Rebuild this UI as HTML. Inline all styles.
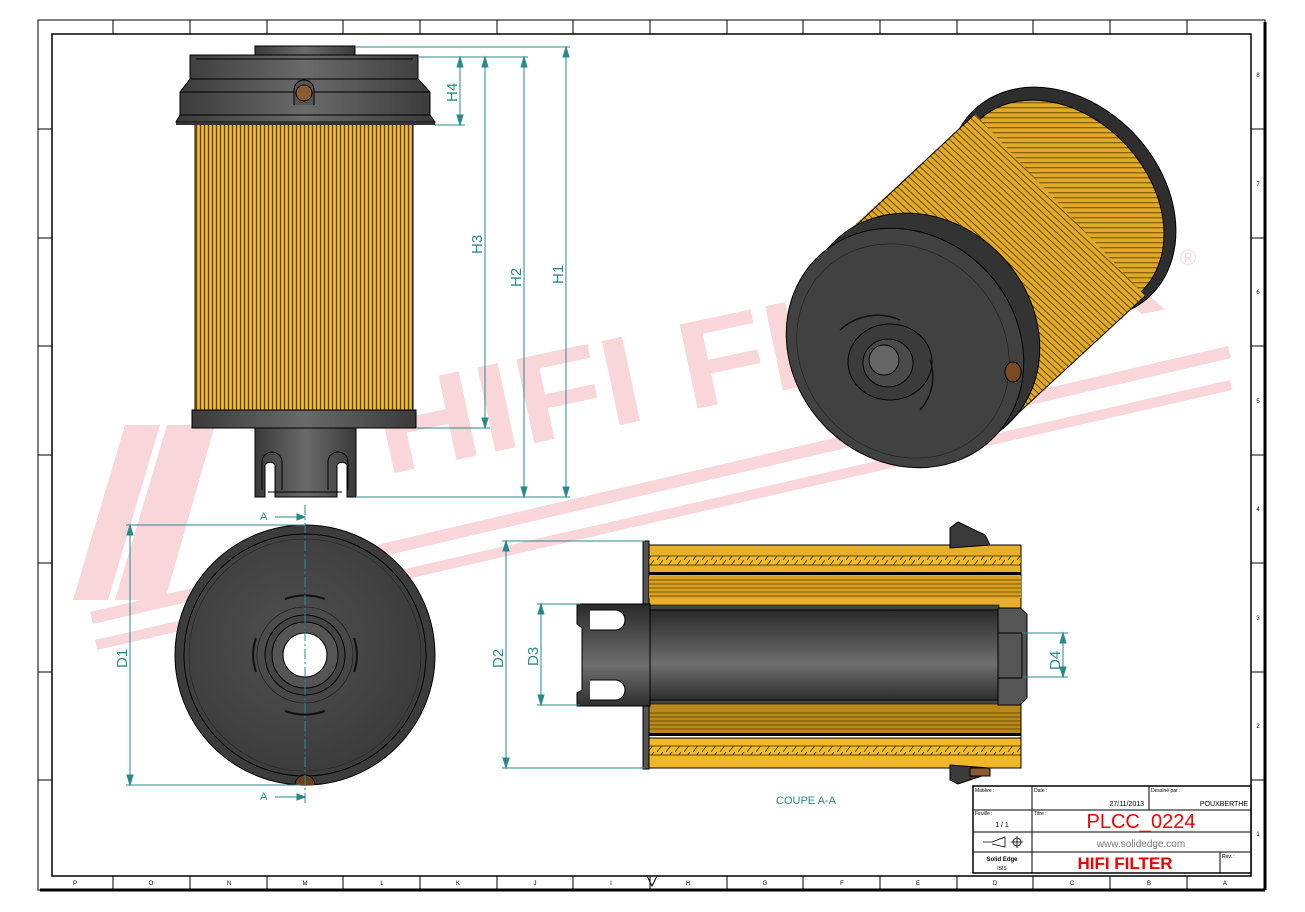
<!DOCTYPE html>
<html><head><meta charset="utf-8"><style>
html,body{margin:0;padding:0;background:#fff}
svg{display:block}
text{font-family:"Liberation Sans",sans-serif}
</style></head><body>
<svg width="1305" height="912" viewBox="0 0 1305 912" xmlns="http://www.w3.org/2000/svg">
<defs>
<pattern id="pleatV" width="4" height="10" patternUnits="userSpaceOnUse">
<rect width="4" height="10" fill="#d9a420"/><rect x="0" width="1" height="10" fill="#5a4208"/><rect x="2" width="1" height="10" fill="#f0c040"/>
</pattern>
<pattern id="pleatD" width="5" height="5" patternUnits="userSpaceOnUse" patternTransform="rotate(-47)">
<rect width="5" height="5" fill="#e0aa28"/><rect width="1" height="5" fill="#6a4a08"/>
</pattern>
<pattern id="hatch" width="9" height="8" patternUnits="userSpaceOnUse">
<rect width="9" height="8" fill="#f2bb2a"/><line x1="0" y1="8" x2="6" y2="0" stroke="#333" stroke-width="0.8"/>
</pattern>
<linearGradient id="gcap" x1="0" x2="1"><stop offset="0" stop-color="#3a3a3a"/><stop offset="0.5" stop-color="#6a6a6a"/><stop offset="1" stop-color="#3a3a3a"/></linearGradient>
<linearGradient id="gtube" x1="0" y1="0" x2="0" y2="1"><stop offset="0" stop-color="#2a2a2a"/><stop offset="0.6" stop-color="#6e6e6e"/><stop offset="1" stop-color="#2e2e2e"/></linearGradient>
<radialGradient id="gdisk" cx="0.45" cy="0.45" r="0.6"><stop offset="0" stop-color="#505050"/><stop offset="1" stop-color="#3a3a3a"/></radialGradient>
</defs>

<!-- frame -->
<rect x="38" y="20" width="1227" height="870" fill="none" stroke="#000" stroke-width="1"/>
<rect x="52" y="34" width="1199" height="842" fill="none" stroke="#000" stroke-width="1.5"/>
<line x1="1265" y1="22" x2="1265" y2="890" stroke="#000" stroke-width="3"/>
<line x1="40" y1="890" x2="1265" y2="890" stroke="#000" stroke-width="3"/>
<g stroke="#000" stroke-width="1">
<line x1="113" y1="20" x2="113" y2="34"/><line x1="190" y1="20" x2="190" y2="34"/><line x1="267" y1="20" x2="267" y2="34"/><line x1="343" y1="20" x2="343" y2="34"/><line x1="420" y1="20" x2="420" y2="34"/><line x1="497" y1="20" x2="497" y2="34"/><line x1="573" y1="20" x2="573" y2="34"/><line x1="650" y1="20" x2="650" y2="34"/><line x1="727" y1="20" x2="727" y2="34"/><line x1="803" y1="20" x2="803" y2="34"/><line x1="880" y1="20" x2="880" y2="34"/><line x1="957" y1="20" x2="957" y2="34"/><line x1="1033" y1="20" x2="1033" y2="34"/><line x1="1110" y1="20" x2="1110" y2="34"/><line x1="1187" y1="20" x2="1187" y2="34"/>
<line x1="113" y1="876" x2="113" y2="890"/><line x1="190" y1="876" x2="190" y2="890"/><line x1="267" y1="876" x2="267" y2="890"/><line x1="343" y1="876" x2="343" y2="890"/><line x1="420" y1="876" x2="420" y2="890"/><line x1="497" y1="876" x2="497" y2="890"/><line x1="573" y1="876" x2="573" y2="890"/><line x1="650" y1="876" x2="650" y2="890"/><line x1="727" y1="876" x2="727" y2="890"/><line x1="803" y1="876" x2="803" y2="890"/><line x1="880" y1="876" x2="880" y2="890"/><line x1="957" y1="876" x2="957" y2="890"/><line x1="1033" y1="876" x2="1033" y2="890"/><line x1="1110" y1="876" x2="1110" y2="890"/><line x1="1187" y1="876" x2="1187" y2="890"/>
<line x1="38" y1="129" x2="52" y2="129"/><line x1="38" y1="238" x2="52" y2="238"/><line x1="38" y1="346" x2="52" y2="346"/><line x1="38" y1="455" x2="52" y2="455"/><line x1="38" y1="563" x2="52" y2="563"/><line x1="38" y1="672" x2="52" y2="672"/><line x1="38" y1="780" x2="52" y2="780"/>
<line x1="1251" y1="129" x2="1265" y2="129"/><line x1="1251" y1="238" x2="1265" y2="238"/><line x1="1251" y1="346" x2="1265" y2="346"/><line x1="1251" y1="455" x2="1265" y2="455"/><line x1="1251" y1="563" x2="1265" y2="563"/><line x1="1251" y1="672" x2="1265" y2="672"/><line x1="1251" y1="780" x2="1265" y2="780"/>
</g>
<g font-size="6" fill="#000" text-anchor="middle">
<text x="75" y="885">P</text><text x="151" y="885">O</text><text x="229" y="885">N</text><text x="305" y="885">M</text><text x="382" y="885">L</text><text x="458" y="885">K</text><text x="535" y="885">J</text><text x="611" y="885">I</text><text x="688" y="885">H</text><text x="765" y="885">G</text><text x="842" y="885">F</text><text x="918" y="885">E</text><text x="995" y="885">D</text><text x="1072" y="885">C</text><text x="1149" y="885">B</text><text x="1225" y="885">A</text>
<text x="1258" y="77">8</text><text x="1258" y="186">7</text><text x="1258" y="294">6</text><text x="1258" y="403">5</text><text x="1258" y="511">4</text><text x="1258" y="620">3</text><text x="1258" y="728">2</text><text x="1258" y="836">1</text>
</g>
<path d="M647 876 L657 876 L652 886 Z" fill="none" stroke="#000"/>

<!-- watermark -->
<g fill="#f8d6d9">
<polygon points="73,600 125,425 160,425 108,600"/>
<polygon points="115,600 167,425 202,425 150,600"/>
<polygon points="140,600 190,425 215,425 165,600"/>
<polygon points="90,612 1228,346 1231,358 93,624"/>
<polygon points="95,640 1230,380 1232,390 97,650"/>
<text x="385" y="475" font-size="125" font-weight="bold" font-family="Liberation Serif,serif" textLength="800" lengthAdjust="spacingAndGlyphs" transform="rotate(-12 385 475)">HIFI FILTER</text>
<text x="1180" y="265" font-size="22">®</text>
</g>

<!-- FRONT VIEW -->
<rect x="195" y="124" width="218" height="288" fill="url(#pleatV)" stroke="#000"/>
<rect x="255" y="46" width="100" height="10" fill="url(#gcap)" stroke="#000"/>
<path d="M190 55 L418 55 L418 79 L430 92 L430 115 L435 122 L176 122 L180 115 L180 92 L190 79 Z" fill="url(#gcap)" stroke="#000"/>
<line x1="190" y1="79" x2="418" y2="79" stroke="#000"/><line x1="180" y1="92" x2="430" y2="92" stroke="#000"/><line x1="180" y1="115" x2="430" y2="115" stroke="#000"/>
<line x1="196" y1="59" x2="413" y2="59" stroke="#000"/>
<path d="M294 105 L294 90 A10 10 0 0 1 314 90 L314 105" fill="#555" stroke="#000"/>
<circle cx="304" cy="93" r="8" fill="#8a5a30" stroke="#000"/>
<rect x="176" y="122" width="259" height="3" fill="#333"/>
<rect x="192" y="410" width="224" height="18" fill="url(#gcap)" stroke="#000"/>
<path d="M255 428 L356 428 L356 497 L347 497 L347 465 A6 6 0 0 0 337 465 L337 497 L275 497 L275 465 A6 6 0 0 0 265 465 L265 497 L255 497 Z" fill="url(#gcap)" stroke="#000"/>
<path d="M262 490 L262 462 A10 10 0 0 1 282 462 L282 490 M328 490 L328 462 A10 10 0 0 1 348 462 L348 490 M268 492 H342" fill="none" stroke="#000"/>

<!-- front view dims -->
<g stroke="#2a8a8a" stroke-width="1" fill="#2a8a8a">
<line x1="355" y1="47" x2="570" y2="47"/><line x1="418" y1="57" x2="528" y2="57"/><line x1="435" y1="125" x2="465" y2="125"/><line x1="416" y1="428" x2="490" y2="428"/><line x1="357" y1="497" x2="570" y2="497"/>
<line x1="460" y1="57" x2="460" y2="125"/><line x1="485" y1="57" x2="485" y2="428"/><line x1="524" y1="57" x2="524" y2="497"/><line x1="566" y1="47" x2="566" y2="497"/>
<path d="M460 57 l-3 10 h6z M460 125 l-3 -10 h6z M485 57 l-3 10 h6z M485 428 l-3 -10 h6z M524 57 l-3 10 h6z M524 497 l-3 -10 h6z M566 47 l-3 10 h6z M566 497 l-3 -10 h6z"/>
</g>
<g fill="#2a8a8a" font-size="15">
<text transform="translate(457 102) rotate(-90)">H4</text>
<text transform="translate(482 254) rotate(-90)">H3</text>
<text transform="translate(521 287) rotate(-90)">H2</text>
<text transform="translate(563 284) rotate(-90)">H1</text>
</g>

<!-- BOTTOM VIEW -->
<circle cx="305" cy="655" r="130" fill="#3c3c3c" stroke="#000"/>
<circle cx="305" cy="655" r="121" fill="url(#gdisk)" stroke="#000"/>
<circle cx="305" cy="655" r="116" fill="none" stroke="#222" stroke-width="0.6"/>
<circle cx="305" cy="655" r="48" fill="none" stroke="#222" stroke-width="0.8"/>
<circle cx="305" cy="655" r="40" fill="#444" stroke="#000"/>
<circle cx="305" cy="655" r="33" fill="#555" stroke="#000"/>
<circle cx="305" cy="655" r="22" fill="#fff" stroke="#000"/>
<path d="M256 638 A52 52 0 0 0 256 672 M354 638 A52 52 0 0 1 354 672 M285 599 A58 58 0 0 1 325 599 M285 711 A58 58 0 0 0 325 711" fill="none" stroke="#111" stroke-width="2"/>
<path d="M295 785 A10 10 0 0 1 315 785" fill="#6a4020" stroke="#000"/>
<g stroke="#2a8a8a" fill="#2a8a8a">
<line x1="126" y1="525" x2="305" y2="525"/><line x1="126" y1="785" x2="300" y2="785"/>
<line x1="130" y1="525" x2="130" y2="785"/>
<path d="M130 525 l-3 10 h6z M130 785 l-3 -10 h6z"/>
<line x1="305" y1="505" x2="305" y2="805" stroke-dasharray="10 3 2 3"/>
<line x1="275" y1="517" x2="305" y2="517"/><line x1="275" y1="797" x2="305" y2="797"/>
<path d="M305 517 l-8 -3 v6z M305 797 l-8 -3 v6z"/>
</g>
<g fill="#2a8a8a" font-size="11"><text x="260" y="520">A</text><text x="260" y="800">A</text></g>
<text transform="translate(127 668) rotate(-90)" fill="#2a8a8a" font-size="15">D1</text>

<!-- SECTION VIEW -->
<rect x="643" y="541" width="6" height="228" fill="#555" stroke="#000"/>
<rect x="649" y="545" width="372" height="63" fill="#e8b02a" stroke="#000"/>
<rect x="649" y="556" width="372" height="9" fill="url(#hatch)" stroke="#000" stroke-width="0.6"/>
<rect x="649" y="572" width="372" height="3" fill="#000"/>
<rect x="649" y="576" width="372" height="22" fill="#d9a020"/>
<rect x="649" y="702" width="372" height="32" fill="#b8881a"/>
<g stroke="#5a4008" stroke-width="0.7"><line x1="649" y1="580" x2="1021" y2="580"/><line x1="649" y1="584" x2="1021" y2="584"/><line x1="649" y1="588" x2="1021" y2="588"/><line x1="649" y1="592" x2="1021" y2="592"/><line x1="649" y1="596" x2="1021" y2="596"/><line x1="649" y1="713" x2="1021" y2="713"/><line x1="649" y1="717" x2="1021" y2="717"/><line x1="649" y1="721" x2="1021" y2="721"/><line x1="649" y1="725" x2="1021" y2="725"/><line x1="649" y1="729" x2="1021" y2="729"/></g>
<rect x="649" y="733" width="372" height="3" fill="#000"/>
<rect x="649" y="738" width="372" height="30" fill="#f0b828" stroke="#000"/>
<rect x="649" y="746" width="372" height="9" fill="url(#hatch)" stroke="#000" stroke-width="0.6"/>
<rect x="649" y="701" width="372" height="67" fill="none" stroke="#000"/>
<rect x="649" y="605" width="350" height="5" fill="#444" stroke="#000" stroke-width="0.6"/>
<rect x="649" y="699" width="350" height="5" fill="#444" stroke="#000" stroke-width="0.6"/>
<rect x="650" y="610" width="350" height="90" fill="url(#gtube)" stroke="#000"/>
<path d="M577 604 L650 604 L650 706 L577 706 L577 693 L582 690 L582 628 L577 624 Z" fill="url(#gtube)" stroke="#000"/>
<path d="M590 610 L615 610 A10 10 0 0 1 615 630 L590 630 M590 700 L615 700 A10 10 0 0 0 615 680 L590 680" fill="#fff" stroke="#000"/>
<path d="M998 608 L1020 608 L1027 614 L1027 698 L1020 705 L998 705 Z" fill="#555" stroke="#000"/>
<rect x="998" y="633" width="24" height="45" fill="#555" stroke="#000"/>
<path d="M950 548 L950 528 L958 522 L985 535 L990 545 Z M950 765 L950 780 L958 784 L985 775 L990 768 Z" fill="#3a3a3a" stroke="#000"/>
<rect x="970" y="768" width="20" height="8" fill="#8a5a30" stroke="#000"/>
<g stroke="#2a8a8a" fill="#2a8a8a">
<line x1="502" y1="541" x2="645" y2="541"/><line x1="502" y1="768" x2="645" y2="768"/>
<line x1="506" y1="541" x2="506" y2="768"/><path d="M506 541 l-3 10 h6z M506 768 l-3 -10 h6z"/>
<line x1="537" y1="604" x2="580" y2="604"/><line x1="537" y1="705" x2="580" y2="705"/>
<line x1="541" y1="604" x2="541" y2="705"/><path d="M541 604 l-3 10 h6z M541 705 l-3 -10 h6z"/>
<line x1="1022" y1="633" x2="1068" y2="633"/><line x1="1022" y1="677" x2="1068" y2="677"/>
<line x1="1063" y1="633" x2="1063" y2="677"/><path d="M1063 633 l-3 10 h6z M1063 677 l-3 -10 h6z"/>
</g>
<g fill="#2a8a8a" font-size="15">
<text transform="translate(503 668) rotate(-90)">D2</text>
<text transform="translate(538 666) rotate(-90)">D3</text>
<text transform="translate(1060 670) rotate(-90)">D4</text>
</g>
<text x="776" y="804" fill="#2a8a8a" font-size="11">COUPE A-A</text>

<!-- ISOMETRIC -->
<g>
<ellipse cx="1062" cy="203" rx="100" ry="128" transform="rotate(-43 1062 203)" fill="#2e2e2e" stroke="#000"/>
<ellipse cx="1060" cy="206" rx="90" ry="118" transform="rotate(-43 1060 206)" fill="url(#pleatD)" stroke="#000"/>
<polygon points="820,257 975,114 1145,296 990,439" fill="url(#pleatD)"/>
<line x1="975" y1="114" x2="830" y2="250" stroke="#000"/>
<line x1="1145" y1="296" x2="1000" y2="430" stroke="#000"/>
<ellipse cx="922" cy="332" rx="110" ry="126" transform="rotate(-43 922 332)" fill="#333" stroke="#000"/>
<ellipse cx="905" cy="348" rx="112" ry="126" transform="rotate(-43 905 348)" fill="#414141" stroke="#000"/>
<ellipse cx="903" cy="351" rx="100" ry="113" transform="rotate(-43 903 351)" fill="none" stroke="#222" stroke-width="0.7"/>
<ellipse cx="890" cy="362" rx="42" ry="38" fill="#3b3b3b" stroke="#000"/>
<ellipse cx="888" cy="363" rx="25" ry="24" fill="#4a4a4a" stroke="#000"/>
<ellipse cx="884" cy="360" rx="15" ry="15" fill="#666" stroke="#000"/>
<path d="M840 330 A55 55 0 0 1 900 320 M930 360 A50 50 0 0 1 920 410" fill="none" stroke="#111" stroke-width="1.5"/>
<ellipse cx="1013" cy="372" rx="8" ry="10" fill="#7a4a20" stroke="#000"/>
</g>

<!-- TITLE BLOCK -->
<rect x="973" y="786" width="278" height="87" fill="#fff"/>
<g stroke="#000" fill="none">
<rect x="973" y="786" width="278" height="87" stroke-width="1.5"/>
<line x1="973" y1="810" x2="1251" y2="810"/><line x1="973" y1="832" x2="1251" y2="832"/><line x1="973" y1="852" x2="1251" y2="852"/>
<line x1="1032" y1="786" x2="1032" y2="873"/><line x1="1149" y1="786" x2="1149" y2="810"/><line x1="1220" y1="852" x2="1220" y2="873"/>
</g>
<g font-size="5" fill="#000"><text x="975" y="792">Matière :</text><text x="1034" y="792">Date :</text><text x="1151" y="792">Dessiné par :</text><text x="975" y="815">Feuille :</text><text x="1034" y="815">Titre :</text><text x="1222" y="858">Rév. :</text></g>
<text x="1144" y="806" font-size="7" text-anchor="end">27/11/2013</text>
<text x="1248" y="806" font-size="7" text-anchor="end">POUXBERTHE</text>
<text x="1002" y="827" font-size="7" text-anchor="middle">1 / 1</text>
<text x="1141" y="828" font-size="20" fill="#e00" text-anchor="middle">PLCC_0224</text>
<text x="1141" y="847" font-size="10" fill="#777" text-anchor="middle">www.solidedge.com</text>
<text x="1125" y="869" font-size="17" font-weight="bold" fill="#e00" text-anchor="middle">HIFI FILTER</text>
<text x="1002" y="861" font-size="6" font-weight="bold" text-anchor="middle">Solid Edge</text>
<text x="1002" y="870" font-size="5" text-anchor="middle">ISIS</text>
<g stroke="#000" fill="none" stroke-width="0.8"><path d="M983 842 H992 L1005 837 V847 L992 844"/><circle cx="1017" cy="842" r="4"/><line x1="1011" y1="842" x2="1023" y2="842"/><line x1="1017" y1="836" x2="1017" y2="848"/></g>
</svg>
</body></html>
